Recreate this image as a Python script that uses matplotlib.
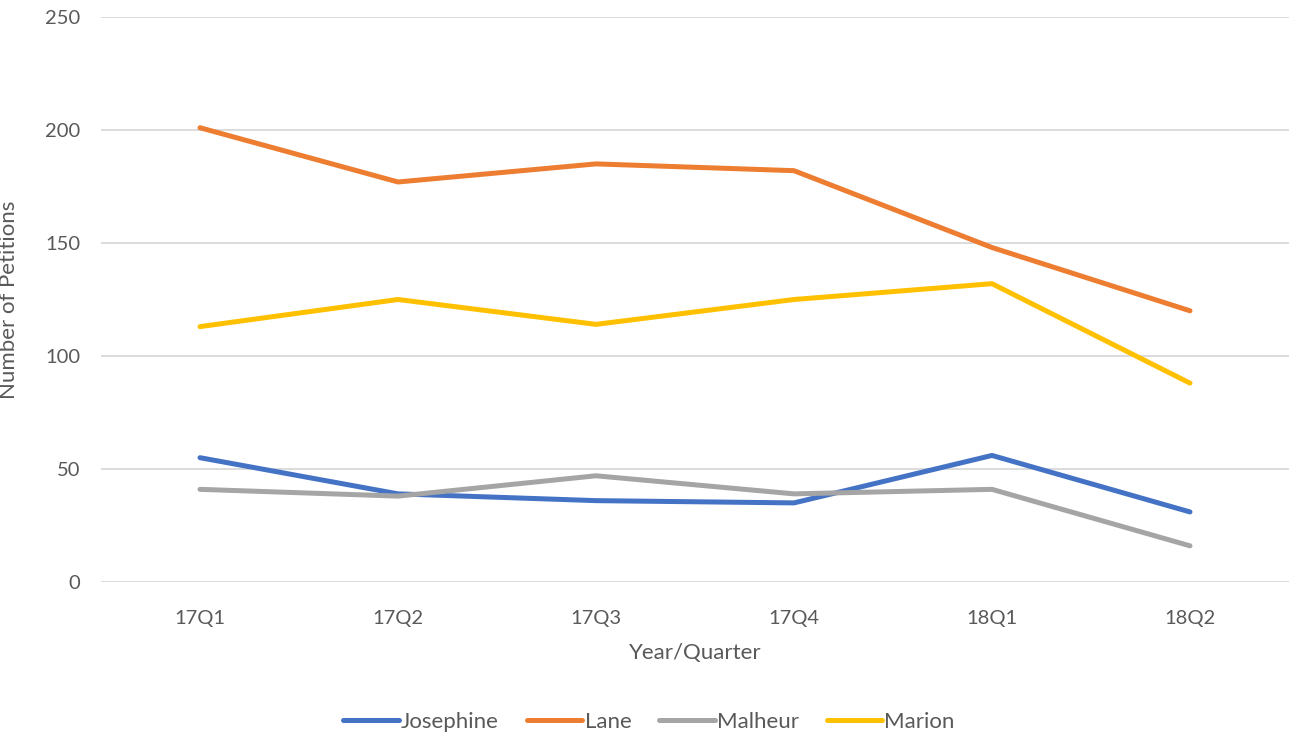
import matplotlib
matplotlib.use("Agg")
import matplotlib.pyplot as plt

categories = ["17Q1", "17Q2", "17Q3", "17Q4", "18Q1", "18Q2"]
josephine = [55, 39, 36, 35, 56, 31]
lane = [201, 177, 185, 182, 148, 120]
malheur = [41, 38, 47, 39, 41, 16]
marion = [113, 125, 114, 125, 132, 88]

series = [
    ("Josephine", josephine, "#4472C4"),
    ("Lane", lane, "#ED7D31"),
    ("Malheur", malheur, "#A5A5A5"),
    ("Marion", marion, "#FFC000"),
]

plt.rcParams['font.family'] = ['Lato', 'DejaVu Sans']
text_color = "#595959"

fig = plt.figure(figsize=(13.06, 7.40), dpi=100)
ax = fig.add_axes([101/1306, 1 - 582/740, (1289-101)/1306, (582-17)/740])

x = list(range(len(categories)))
for name, vals, col in series:
    ax.plot(x, vals, color=col, lw=3.6, label=name, solid_capstyle='round', solid_joinstyle='round')

ax.set_xlim(-0.5, len(categories) - 0.5)
ax.set_ylim(0, 250)
ax.set_yticks(range(0, 251, 50))
ax.set_xticks(x)
ax.set_xticklabels(categories)
ax.grid(axis='y', color="#D9D9D9", lw=1.3)
ax.set_axisbelow(True)
for s in ax.spines.values():
    s.set_visible(False)
ax.tick_params(axis='y', length=0, labelsize=14.5, colors=text_color, pad=15)
ax.tick_params(axis='x', length=0, labelsize=14.5, colors=text_color, pad=20)
ax.set_xlabel("Year/Quarter", fontsize=16, color=text_color, labelpad=12)
ax.set_ylabel("Number of Petitions", fontsize=16, color=text_color)
ax.yaxis.set_label_coords((19 - 101) / 1188, 0.5)

leg = fig.legend(loc='center', bbox_to_anchor=(0.497, 1 - 722/740), ncol=4, frameon=False,
                 fontsize=16, handlelength=2.5, handletextpad=0.1, columnspacing=1.25)
for t in leg.get_texts():
    t.set_color(text_color)

fig.savefig("out.png", dpi=100)
